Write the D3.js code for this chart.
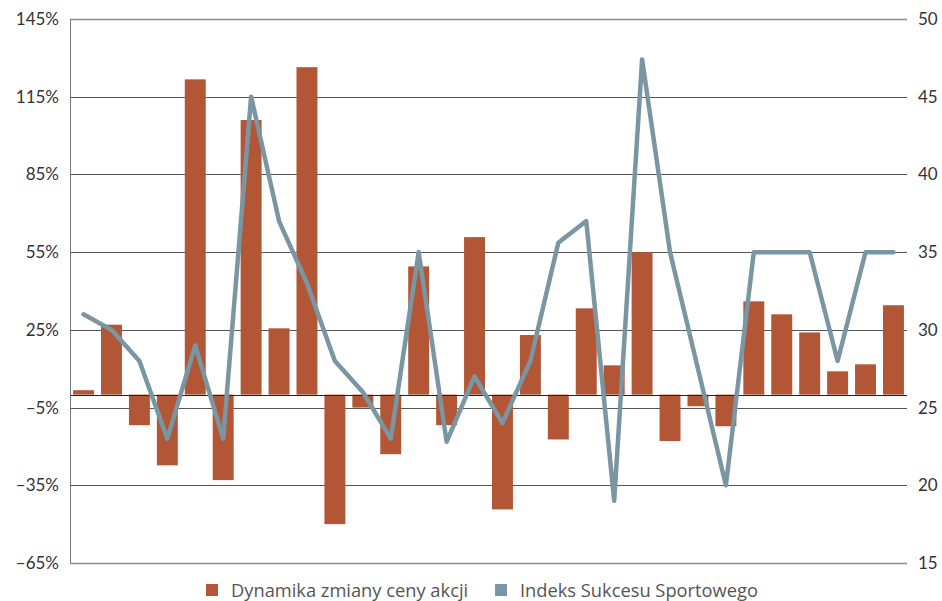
<!DOCTYPE html>
<html>
<head>
<meta charset="utf-8">
<script src="https://cdn.jsdelivr.net/npm/d3@7"></script>
<style>
  html, body { margin: 0; padding: 0; background: #fff; }
  svg { display: block; }
  text { font-family: Lato, "Open Sans", sans-serif; }
</style>
</head>
<body>
<svg id="chart" width="942" height="601"></svg>
<script>
const categories = d3.range(1, 31);
const priceChange = [1.7, 27, -11.8, -27.3, 121.7, -33, 106, 25.6, 126.4, -50,
                     -5, -23, 49.5, -11.8, 60.8, -44.3, 23, -17.3, 33.3, 11.3,
                     55, -17.9, -4.5, -12.2, 36, 31, 24, 9, 11.7, 34.5];
const successIndex = [31, 30, 28, 23, 29, 23, 45, 37, 33, 28,
                      26, 23, 35, 22.8, 27, 24, 28, 35.6, 37, 19,
                      47.4, 35, 27.5, 20, 35, 35, 35, 28, 35, 35];
const leftTicks = [-65, -35, -5, 25, 55, 85, 115, 145];
const leftTickLabels = ["–65%", "–35%", "–5%", "25%", "55%", "85%", "115%", "145%"];
const rightTicks = [15, 20, 25, 30, 35, 40, 45, 50];
const seriesNames = ["Dynamika zmiany ceny akcji", "Indeks Sukcesu Sportowego"];

const barColor = "#b25636";
const lineColor = "#7a96a3";

const svg = d3.select("#chart");
const m = { left: 70, right: 907, top: 19, bottom: 563 };

const x = d3.scaleBand().domain(categories).range([m.left, m.right])
  .paddingInner(0.25).paddingOuter(0.11);
const yL = d3.scaleLinear().domain([-65, 145]).range([m.bottom, m.top]);
const yR = d3.scaleLinear().domain([15, 50]).range([m.bottom, m.top]);

// gridlines
svg.append("g").selectAll("line").data(leftTicks).join("line")
  .attr("x1", m.left).attr("x2", m.right)
  .attr("y1", d => Math.round(yL(d)) + 0.5).attr("y2", d => Math.round(yL(d)) + 0.5)
  .attr("stroke", (d, i) => (i === 0 || i === leftTicks.length - 1) ? "#8a8a8a" : "#555")
  .attr("stroke-width", (d, i) => (i === 0 || i === leftTicks.length - 1) ? 1.6 : 1);

// left axis line
svg.append("line")
  .attr("x1", m.left + 0.5).attr("x2", m.left + 0.5)
  .attr("y1", m.top).attr("y2", m.bottom)
  .attr("stroke", "#777").attr("stroke-width", 1);

// left axis labels
const leftAxis = d3.axisLeft(yL).tickValues(leftTicks)
  .tickFormat((d, i) => leftTickLabels[i]).tickSize(0).tickPadding(11);
const gl = svg.append("g").attr("transform", `translate(${m.left},0)`).call(leftAxis);
gl.select(".domain").remove();
gl.selectAll("text").attr("fill", "#333").style("font-size", "17px")
  .style("font-family", "Lato, 'Open Sans', sans-serif");

// right axis labels
const rightAxis = d3.axisRight(yR).tickValues(rightTicks).tickSize(0).tickPadding(11);
const gr = svg.append("g").attr("transform", `translate(${m.right},0)`).call(rightAxis);
gr.select(".domain").remove();
gr.selectAll("text").attr("fill", "#333").style("font-size", "17px")
  .style("font-family", "Lato, 'Open Sans', sans-serif");

// bars
svg.append("g").selectAll("rect").data(priceChange).join("rect")
  .attr("x", (d, i) => x(categories[i]))
  .attr("width", x.bandwidth())
  .attr("y", d => yL(Math.max(0, d)))
  .attr("height", d => Math.abs(yL(d) - yL(0)))
  .attr("fill", barColor);

// zero line
svg.append("line")
  .attr("x1", m.left + 1).attr("x2", m.right)
  .attr("y1", Math.round(yL(0)) + 0.5).attr("y2", Math.round(yL(0)) + 0.5)
  .attr("stroke", "#222").attr("stroke-width", 1);

// line
const line = d3.line()
  .x((d, i) => x(categories[i]) + x.bandwidth() / 2)
  .y(d => yR(d));
svg.append("path").datum(successIndex)
  .attr("d", line)
  .attr("fill", "none")
  .attr("stroke", lineColor)
  .attr("stroke-width", 4.5)
  .attr("stroke-linejoin", "round")
  .attr("stroke-linecap", "round");

// legend
const legend = svg.append("g");
const legendItems = [
  { name: seriesNames[0], color: barColor, x: 206 },
  { name: seriesNames[1], color: lineColor, x: 495 }
];
legendItems.forEach(it => {
  legend.append("rect").attr("x", it.x).attr("y", 584).attr("width", 12).attr("height", 12)
    .attr("fill", it.color);
  legend.append("text").attr("x", it.x + 25).attr("y", 597)
    .attr("fill", "#555").style("font-size", "18.3px")
    .style("font-family", "'Open Sans', sans-serif").text(it.name);
});
</script>
</body>
</html>
